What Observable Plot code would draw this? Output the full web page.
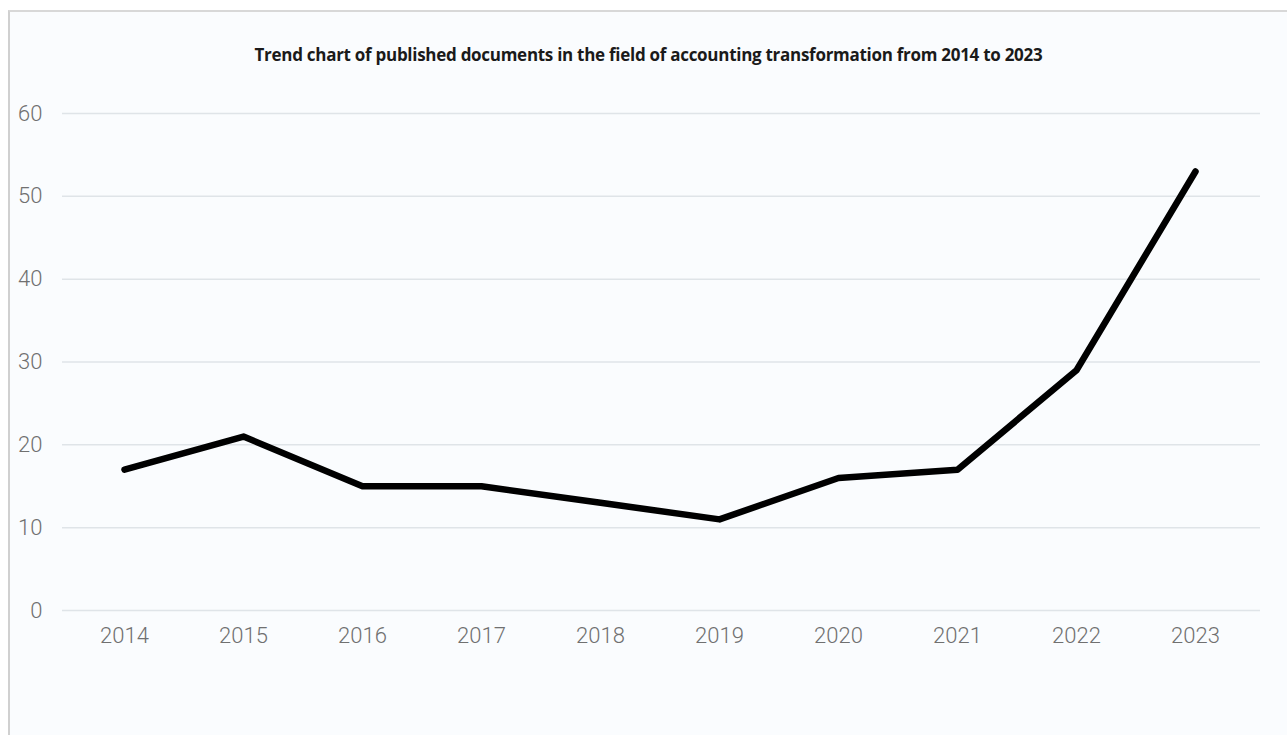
<!DOCTYPE html>
<html>
<head>
<meta charset="utf-8">
<script src="https://cdn.jsdelivr.net/npm/d3@7"></script>
<script src="https://cdn.jsdelivr.net/npm/@observablehq/plot@0.6"></script>
<style>
  html, body { margin: 0; padding: 0; background: #ffffff; width: 1287px; height: 735px; overflow: hidden; }
  #wrap { position: absolute; left: 8px; top: 10px; width: 1279px; height: 725px;
          border-left: 2px solid #d0d0d0; border-top: 2px solid #d8d8d8;
          background: #fafcfe; box-sizing: border-box; }
  #title { height: 68px; box-sizing: border-box; padding-top: 33px; line-height: 20px;
           text-align: center; font-family: "Open Sans", sans-serif; font-weight: 700;
           font-size: 17px; color: #1a1a1a; letter-spacing: -0.28px; }
</style>
</head>
<body>
<div id="wrap">
  <div id="title">Trend chart of published documents in the field of accounting transformation from 2014 to 2023</div>
  <div id="chart"></div>
</div>
<script>
const years = ["2014","2015","2016","2017","2018","2019","2020","2021","2022","2023"];
const counts = [17, 21, 15, 15, 13, 11, 16, 17, 29, 53];
const yTicks = [0, 10, 20, 30, 40, 50, 60];

const data = years.map((y, i) => ({year: y, value: counts[i]}));

const chart = Plot.plot({
  width: 1277,
  height: 655,
  marginLeft: 52,
  marginRight: 27,
  marginTop: 33,
  marginBottom: 125,
  style: {background: "transparent", fontFamily: "Roboto, sans-serif", fontSize: "22px", color: "#6e6e6e", fontWeight: 300},
  x: {type: "point", domain: years, range: [110, 1189], padding: 0, label: null},
  y: {domain: [0, 60], ticks: yTicks, label: null},
  marks: [
    Plot.ruleY(yTicks, {stroke: "#dfe4e8", strokeWidth: 1.5}),
    Plot.axisY({ticks: yTicks, tickSize: 0, tickPadding: 20, label: null, fill: "#707070"}),
    Plot.axisX({tickSize: 0, tickPadding: 17, label: null, fill: "#707070"}),
    Plot.line(data, {x: "year", y: "value", stroke: "#000", strokeWidth: 6.5, strokeLinejoin: "round", strokeLinecap: "round"})
  ]
});
document.getElementById("chart").appendChild(chart);
</script>
</body>
</html>
